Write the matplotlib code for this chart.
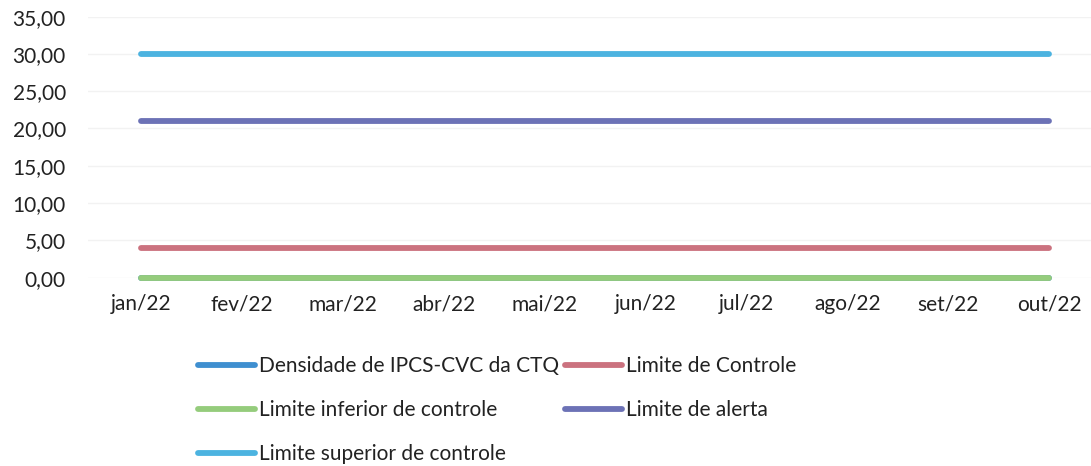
import matplotlib
matplotlib.use("Agg")
import matplotlib.pyplot as plt
from matplotlib.ticker import FuncFormatter

MONTHS = ["jan/22", "fev/22", "mar/22", "abr/22", "mai/22",
          "jun/22", "jul/22", "ago/22", "set/22", "out/22"]

DENSIDADE = [0, 0, 0, 0, 0, 0, 0, 0, 0, 0]
LIMITE_CONTROLE = [4, 4, 4, 4, 4, 4, 4, 4, 4, 4]
LIMITE_INFERIOR = [0, 0, 0, 0, 0, 0, 0, 0, 0, 0]
LIMITE_ALERTA = [21, 21, 21, 21, 21, 21, 21, 21, 21, 21]
LIMITE_SUPERIOR = [30, 30, 30, 30, 30, 30, 30, 30, 30, 30]

plt.rcParams["font.family"] = ["Lato", "DejaVu Sans"]

fig = plt.figure(figsize=(10.91, 4.66), dpi=100)
# plot area in pixels: x 88..1091, y 16.6..277.7
ax = fig.add_axes([88 / 1091, (466 - 277.7) / 466, (1091 - 88) / 1091, 261.1 / 466])

x = list(range(len(MONTHS)))
style = dict(linewidth=4.2, solid_capstyle="round", clip_on=False)

h_dens, = ax.plot(x, DENSIDADE, color="#3f8fd0", label="Densidade de IPCS-CVC da CTQ", **style)
h_ctrl, = ax.plot(x, LIMITE_CONTROLE, color="#cb727f", label="Limite de Controle", **style)
h_inf, = ax.plot(x, LIMITE_INFERIOR, color="#95cc7c", label="Limite inferior de controle", **style)
h_alert, = ax.plot(x, LIMITE_ALERTA, color="#6c72b6", label="Limite de alerta", **style)
h_sup, = ax.plot(x, LIMITE_SUPERIOR, color="#4cb3e0", label="Limite superior de controle", **style)

ax.set_ylim(0, 35)
ax.set_yticks(range(0, 36, 5))
ax.yaxis.set_major_formatter(FuncFormatter(lambda v, p: f"{v:.2f}".replace(".", ",")))
ax.set_xlim(-53 / 100.9, 9 + 42 / 100.9)
ax.set_xticks(x)
ax.set_xticklabels(MONTHS)
ax.grid(axis="y", color="#f2f2f2", linewidth=1)
ax.set_axisbelow(True)
for s in ax.spines.values():
    s.set_visible(False)
ax.tick_params(length=0, labelsize=15, colors="#222222")
ax.tick_params(axis="x", pad=12)
ax.tick_params(axis="y", pad=16)

fig.legend(handles=[h_dens, h_inf, h_sup, h_ctrl, h_alert],
           ncol=2, loc="upper left", bbox_to_anchor=(198 / 1091, 1 - 356 / 466),
           frameon=False, fontsize=15, handlelength=2.75, handletextpad=0.2,
           columnspacing=0.25, labelspacing=1.15, borderpad=0, borderaxespad=0,
           labelcolor="#222222")

fig.savefig("out.png", dpi=100)
